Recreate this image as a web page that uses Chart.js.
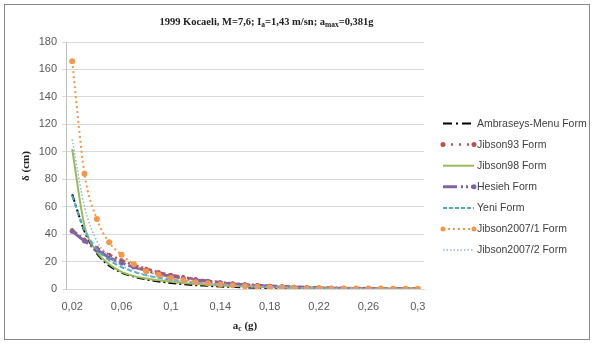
<!DOCTYPE html>
<html>
<head>
<meta charset="utf-8">
<script src="https://cdn.jsdelivr.net/npm/chart.js@4/dist/chart.umd.min.js"></script>
<style>
  html,body{margin:0;padding:0;background:#fff;}
  #wrap{position:relative;width:593px;height:343px;overflow:hidden;}
  #c{position:absolute;left:0;top:0;}
  #frame{position:absolute;left:4px;top:4px;width:584px;height:334px;border:1px solid #8a8a8a;}
  .ttl{position:absolute;font-family:"Liberation Serif","Times New Roman",serif;font-weight:bold;color:#222;text-align:center;white-space:nowrap;line-height:14px;}
  .ttl sub{font-size:7.5px;line-height:0;vertical-align:-2px;}
</style>
</head>
<body>
<div id="wrap">
  <canvas id="c" width="593" height="343"></canvas>
  <div id="frame"></div>
  <div class="ttl" id="title" style="left:0;top:15px;width:533px;font-size:10.5px;">1999 Kocaeli, M=7,6; I<sub>a</sub>=1,43 m/sn; a<sub>max</sub>=0,381g</div>
  <div class="ttl" id="xtitle" style="left:145px;top:318px;width:200px;font-size:11px;">a<sub>c</sub> (g)</div>
  <div class="ttl" id="ytitle" style="left:-15px;top:159px;width:80px;font-size:11px;transform:rotate(-90deg);">δ (cm)</div>
</div>
<script>
// ---- data ----
const categories = ['0,02','0,03','0,04','0,05','0,06','0,07','0,08','0,09','0,1','0,11','0,12','0,13','0,14','0,15','0,16','0,17','0,18','0,19','0,2','0,21','0,22','0,23','0,24','0,25','0,26','0,27','0,28','0,29','0,3'];
const seriesNames = ['Ambraseys-Menu Form','Jibson93 Form','Jibson98 Form','Hesieh Form','Yeni Form','Jibson2007/1 Form','Jibson2007/2 Form'];
const ambraseysMenu = [69,42,26,17,12,9,7,5.5,4.4,3.5,2.8,2.3,1.8,1.5,1.2,0.95,0.75,0.6,0.47,0.37,0.28,0.21,0.15,0.11,0.08,0.05,0.03,0.02,0.01];
const jibson93 = [43,36,30,25,21,17.5,14.8,12.3,10.3,8.7,7.2,6.0,5.0,4.2,3.5,2.9,2.4,2.0,1.7,1.4,1.2,1.0,0.8,0.7,0.6,0.5,0.4,0.35,0.3];
const jibson98 = [102,46,27,18,12.5,9.4,7.6,6.3,5.2,4.4,3.7,3.1,2.6,2.2,1.9,1.6,1.4,1.2,1.05,0.9,0.8,0.7,0.6,0.55,0.5,0.45,0.4,0.35,0.3];
const hesieh = [42,35,28.5,23,19,16,13.5,11,9.3,7.8,6.5,5.4,4.5,3.7,3.0,2.5,2.0,1.6,1.3,1.0,0.8,0.6,0.5,0.4,0.3,0.25,0.2,0.15,0.1];
const yeni = [68,43,29,21,16,12.5,10,8.2,6.8,5.6,4.6,3.8,3.1,2.6,2.1,1.7,1.4,1.1,0.9,0.7,0.55,0.45,0.35,0.28,0.22,0.17,0.13,0.1,0.08];
const jibson2007_1 = [166,84,51,34,25,18,13,10.3,8,6.3,5,4.1,3.3,2.7,2.0,1.6,1.3,1.1,0.8,0.6,0.5,0.45,0.4,0.35,0.3,0.3,0.25,0.2,0.2];
const jibson2007_2 = [109,60,35,24,17,13,10,8,6.5,5.3,4.4,3.6,3.0,2.5,2.0,1.7,1.4,1.1,0.9,0.7,0.55,0.45,0.35,0.27,0.2,0.15,0.1,0.07,0.05];
const yTicks = [0,20,40,60,80,100,120,140,160,180];

const seriesValues = [ambraseysMenu, jibson93, jibson98, hesieh, yeni, jibson2007_1, jibson2007_2];
const styles = [
  {color:'#000000', width:2,   dash:[8,3,2,3],      legendDash:[9,4,2,4],       r:0,   legendMarks:''},
  {color:'#C0504D', width:2.5, dash:[6,3,2,3],      legendDash:[2,6],           r:2,   legendMarks:'both'},
  {color:'#9BBB59', width:2,   dash:[],             legendDash:[],              r:0,   legendMarks:''},
  {color:'#8064A2', width:3,   dash:[20,3,2,3,2,3], legendDash:[14,4,2,3,2,3],  r:2.5, legendMarks:'end'},
  {color:'#4BACC6', width:2,   dash:[5,3],          legendDash:[4,2],           r:0,   legendMarks:''},
  {color:'#F79646', width:2,   dash:[2,3],          legendDash:[2,3],           r:3,   legendMarks:'both'},
  {color:'#95B3D7', width:1.5, dash:[1.5,2],        legendDash:[1.5,2],         r:0,   legendMarks:''}
];

const datasets = seriesValues.map((vals,i)=>({
  label: seriesNames[i],
  data: vals,
  borderColor: styles[i].color,
  backgroundColor: styles[i].color,
  borderWidth: styles[i].width,
  borderDash: styles[i].dash,
  pointRadius: styles[i].r,
  pointHoverRadius: styles[i].r,
  pointBorderWidth: 0,
  pointBackgroundColor: styles[i].color,
  tension: 0.4,
  cubicInterpolationMode: 'monotone',
  fill: false,
  order: seriesValues.length - i
}));

const legendPlugin = {
  id: 'customLegend',
  afterDraw(chart){
    const ctx = chart.ctx;
    ctx.save();
    const x0 = 443, x1 = 474, yStart = 123.5, dy = 21.1;
    chart.data.datasets.forEach((ds,i)=>{
      const st = styles[i];
      const y = yStart + i*dy;
      ctx.beginPath();
      ctx.strokeStyle = st.color;
      ctx.lineWidth = st.width;
      ctx.setLineDash(st.legendDash);
      ctx.moveTo(x0,y); ctx.lineTo(x1,y);
      ctx.stroke();
      ctx.setLineDash([]);
      ctx.fillStyle = st.color;
      const mr = 2.5;
      if (st.legendMarks==='both' || st.legendMarks==='end'){
        ctx.beginPath(); ctx.arc(x1,y,mr,0,Math.PI*2); ctx.fill();
      }
      if (st.legendMarks==='both'){
        ctx.beginPath(); ctx.arc(x0,y,mr,0,Math.PI*2); ctx.fill();
      }
      ctx.fillStyle = '#404040';
      ctx.font = '10.5px "Liberation Sans", Arial, sans-serif';
      ctx.textBaseline = 'middle';
      ctx.textAlign = 'left';
      ctx.fillText(ds.label, x1+3, y+0.5);
    });
    ctx.restore();
  }
};

new Chart(document.getElementById('c'), {
  type: 'line',
  data: { labels: categories, datasets },
  options: {
    responsive: false,
    animation: false,
    layout: { padding: { left: 0, right: 169, top: 42, bottom: 0 } },
    plugins: { legend: { display: false }, title: { display: false }, tooltip: { enabled: false } },
    scales: {
      x: {
        offset: true,
        grid: { display: false, drawTicks: false },
        border: { display: true, color: '#D9D9D9', width: 1 },
        ticks: {
          autoSkip: false, maxRotation: 0, minRotation: 0, padding: 11,
          color: '#595959', font: { family: '"Liberation Sans", Arial, sans-serif', size: 11 },
          callback: function(v, idx){ return idx % 4 === 0 ? categories[idx] : ''; }
        },
        afterFit(scale){ scale.height = 343 - 289; }
      },
      y: {
        min: 0, max: 180,
        afterBuildTicks(scale){ scale.ticks = yTicks.map(v=>({value:v})); },
        grid: { color: '#D9D9D9', lineWidth: 1, tickLength: 4 },
        border: { display: true, color: '#BFBFBF', width: 1 },
        ticks: { padding: 5, color: '#595959', font: { family: '"Liberation Sans", Arial, sans-serif', size: 11 } },
        afterFit(scale){ scale.width = 66; }
      }
    }
  },
  plugins: [legendPlugin]
});
</script>
</body>
</html>
